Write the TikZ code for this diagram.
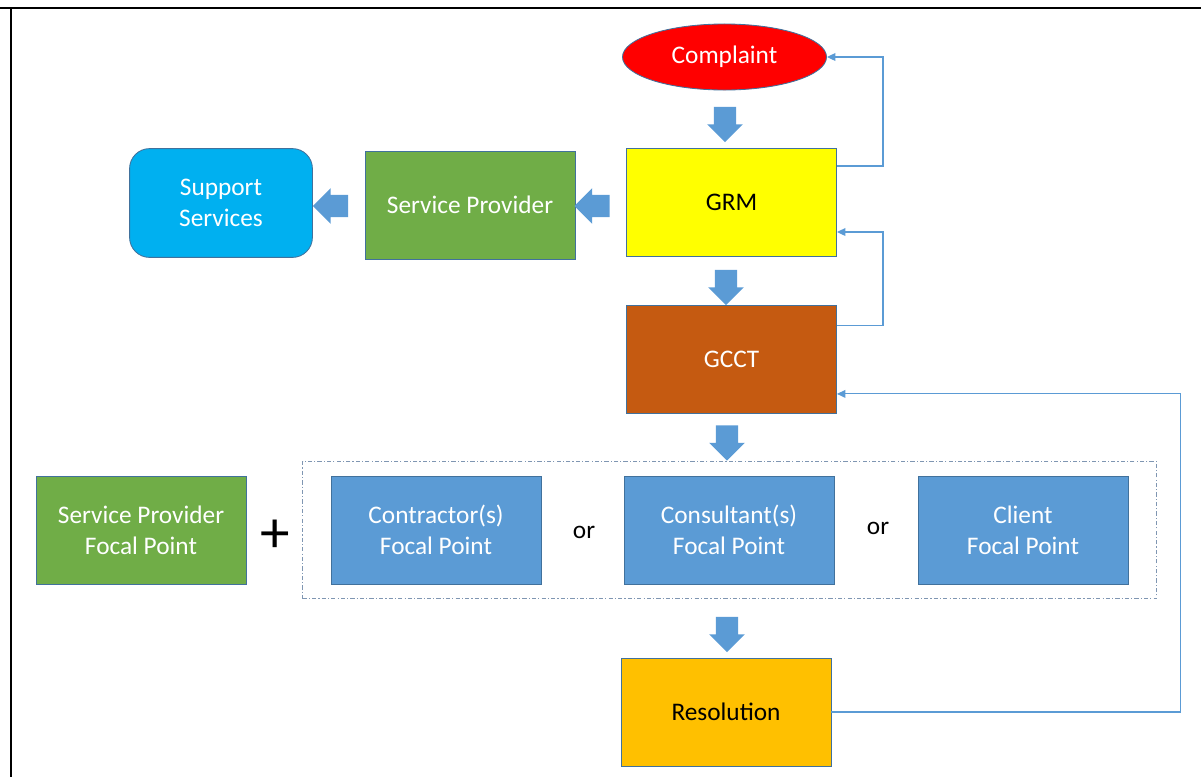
\documentclass[tikz,border=0pt]{standalone}
\usepackage{fontspec}
\setmainfont{Carlito}
\usetikzlibrary{positioning, shapes.geometric, shapes.arrows, arrows.meta, fit}
\definecolor{fillblue}{HTML}{5B9BD5}
\definecolor{edgeblue}{HTML}{41719C}
\definecolor{fillgreen}{HTML}{70AD47}
\definecolor{fillcyan}{HTML}{00B0F0}
\definecolor{fillrust}{HTML}{C55A11}
\definecolor{fillgold}{HTML}{FFC000}
\definecolor{fillyellow}{HTML}{FFFF00}
\definecolor{dashgray}{HTML}{7F96B2}
\tikzset{
    box/.style={draw=edgeblue, line width=0.6pt, minimum width=5.25cm, minimum height=2.7cm,
        align=center, inner sep=2pt, font=\fontsize{18}{22}\selectfont},
    blockarrow/.style={single arrow, draw=none, fill=fillblue, minimum height=0.88cm,
        inner xsep=0pt, inner ysep=0.27cm, single arrow head extend=0.17cm},
    loopline/.style={draw=fillblue, line width=0.8pt, -{Triangle[length=6pt, width=5.5pt]}},
    label/.style={font=\fontsize{18}{22}\selectfont}
}

\begin{document}
\begin{tikzpicture}[x=0.025cm, y=-0.025cm]
        \useasboundingbox (0, 0) rectangle (1201, 777);
        % page frame
        \draw [line width=2pt] (0, 8) -- (1201, 8);
        \draw [line width=0.9pt] (11, 8) -- (11, 777);

        \node [ellipse, draw=edgeblue, line width=0.6pt, fill=red, text=white, minimum width=5.1cm,
            minimum height=1.65cm, label] (complaint) at (724.5, 57) {Complaint};
        \node [box, fill=fillyellow] (grm) at (731.5, 202) {GRM};
        \node [box, fill=fillgreen, text=white] (provider) at (470, 205) {Service Provider};
        \node [box, fill=fillcyan, text=white, rounded corners=0.5cm, minimum width=4.57cm,
            minimum height=2.72cm] (support) at (221, 203) {Support\\Services};
        \node [box, fill=fillrust, text=white] (gcct) at (731.5, 359.5) {GCCT};

        \node [box, fill=fillgreen, text=white] (providerfp) at (141, 530) {Service Provider\\Focal Point};
        \node [font=\fontsize{42}{42}\selectfont] (plus) at (275, 536) {+};
        \node [box, fill=fillblue, text=white] (contractor) at (436, 530) {Contractor(s)\\Focal Point};
        \node [label] (or1) at (584, 532) {or};
        \node [box, fill=fillblue, text=white] (consultant) at (729, 530) {Consultant(s)\\Focal Point};
        \node [label] (or2) at (878, 528) {or};
        \node [box, fill=fillblue, text=white] (client) at (1023, 530) {Client\\Focal Point};
        \node [draw=dashgray, line width=0.7pt, dash pattern=on 3pt off 1.5pt on 0.8pt off 1.5pt,
            inner xsep=0.7cm, inner ysep=0.36cm, fit=(contractor) (client)] (focal) {};

        \node [box, fill=fillgold] (resolution) at (726, 712) {Resolution};

        % block arrows
        \node [blockarrow, rotate=-90] (down1) at (725, 119) {};
        \node [blockarrow, rotate=180] (left1) at (597.5, 206) {};
        \node [blockarrow, rotate=180] (left2) at (336, 206) {};
        \node [blockarrow, rotate=-90] (down2) at (726, 282) {};
        \node [blockarrow, rotate=-90] (down3) at (727, 437.5) {};
        \node [blockarrow, rotate=-90] (down4) at (727, 629) {};

        % feedback loops
        \draw [loopline] ([yshift=0.9cm]grm.east) -- ++(1.15cm, 0) |- (complaint.east);
        \draw [loopline] ([yshift=0.86cm]gcct.east) -- ++(1.15cm, 0) |- ([yshift=-0.75cm]grm.east);
        \draw [loopline] (resolution.east) -- ++(8.725cm, 0) |- ([yshift=-0.86cm]gcct.east);
    \end{tikzpicture}
\end{document}
